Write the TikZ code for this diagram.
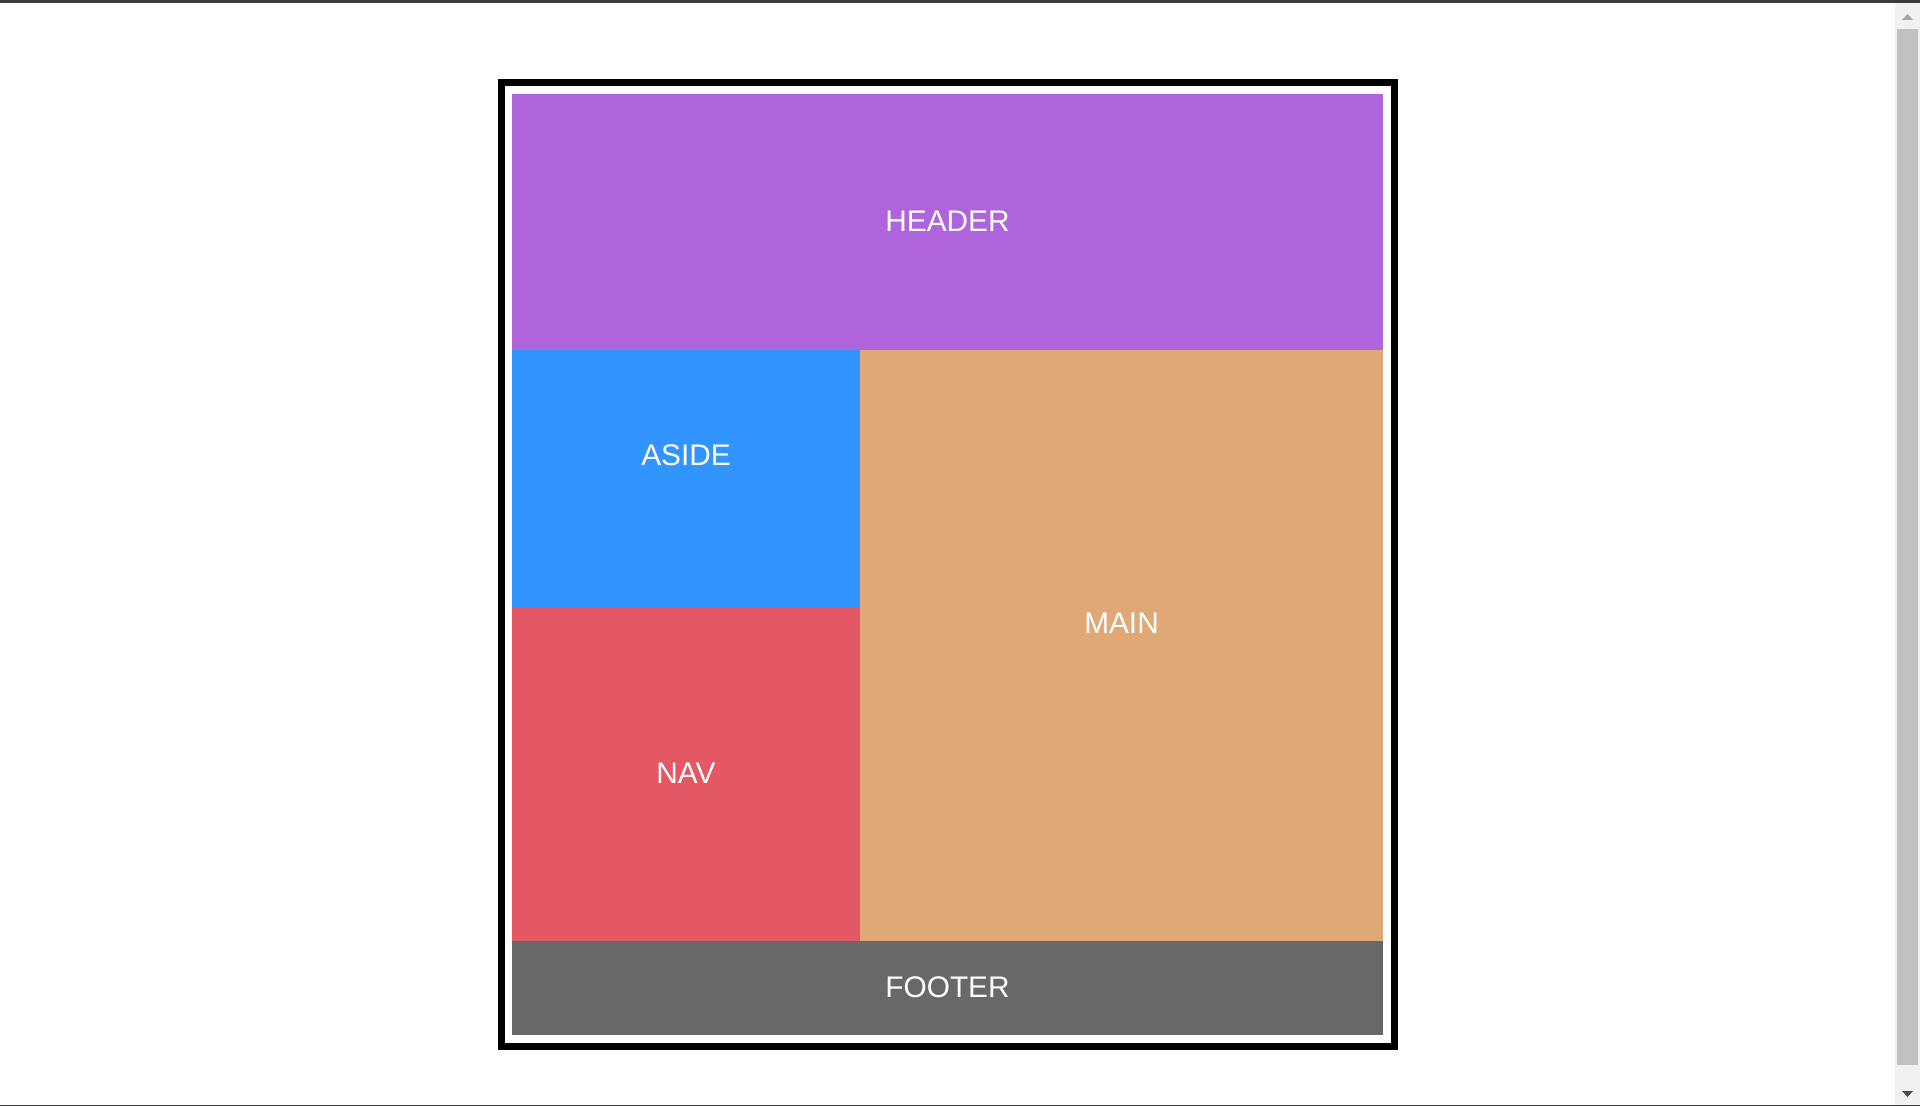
\documentclass[tikz,border=0pt]{standalone}
\usepackage{fontspec}
\setmainfont{Liberation Sans}
\usepackage{xcolor}
\usetikzlibrary{positioning,calc}

\definecolor{headercol}{RGB}{176,100,219}
\definecolor{asidecol}{RGB}{50,148,255}
\definecolor{navcol}{RGB}{228,88,101}
\definecolor{maincol}{RGB}{224,168,118}
\definecolor{footercol}{RGB}{104,104,104}
\definecolor{barcol}{RGB}{60,60,60}
\definecolor{trackcol}{RGB}{241,241,241}
\definecolor{thumbcol}{RGB}{193,193,193}

\tikzset{
    label/.style={text=white, font=\fontsize{14.9pt}{17pt}\selectfont, inner sep=0pt},
}

\begin{document}
\begin{tikzpicture}[x=0.5pt, y=-0.5pt]
    % Page
    \useasboundingbox (0,0) rectangle (1920,1106);
    \fill[white] (0,0) rectangle (1920,1106);
    \fill[barcol] (0,0) rectangle (1920,3);
    \fill[barcol] (0,1105) rectangle (1920,1106);

    % Scrollbar
    \fill[trackcol] (1895,3) rectangle (1920,1105);
    \fill[thumbcol] (1897,29) rectangle (1918,1065);
    \fill[gray!70] (1902,20) -- (1907.5,14) -- (1913,20) -- cycle;
    \fill[black!70] (1902,1091) -- (1907.5,1097) -- (1913,1091) -- cycle;

    % Container
    \draw[black, line width=3.5pt] (501.5,82.5) rectangle (1394.5,1046.5);

    % Areas
    \fill[headercol] (512,94) rectangle (1383,350);
    \fill[asidecol] (512,350) rectangle (860,607);
    \fill[navcol] (512,607) rectangle (860,941);
    \fill[maincol] (860,350) rectangle (1383,941);
    \fill[footercol] (512,941) rectangle (1383,1035);

    % Labels
    \node[label] (header) at (947.5,221) {HEADER};
    \node[label] (aside) at (686,455.5) {ASIDE};
    \node[label] (nav) at (686,773) {NAV};
    \node[label] (main) at (1121.5,623.5) {MAIN};
    \node[label] (footer) at (947.5,987) {FOOTER};
\end{tikzpicture}
\end{document}
